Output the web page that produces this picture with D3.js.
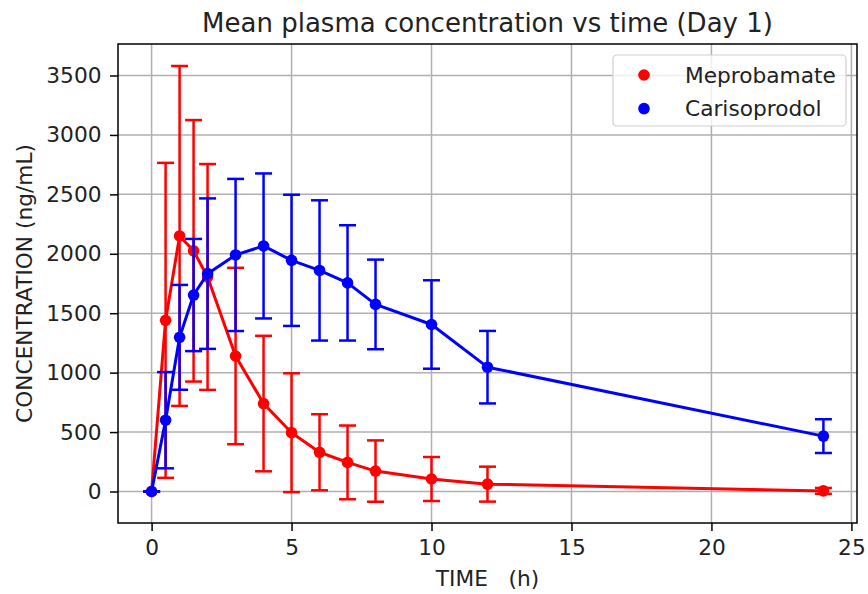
<!DOCTYPE html>
<html>
<head>
<meta charset="utf-8">
<script src="https://cdn.jsdelivr.net/npm/d3@7"></script>
<style>
  body { margin: 0; background: #fff; }
  svg { font-family: "DejaVu Sans", sans-serif; }
</style>
</head>
<body>
<svg id="chart"></svg>
<script>
// time points (h)
const times = [0, 0.5, 1, 1.5, 2, 3, 4, 5, 6, 7, 8, 10, 12, 24];

// Meprobamate mean and SD (ng/mL)
const mepMean = [0, 1440, 2150, 2025, 1805, 1140, 740, 495, 330, 245, 172, 105, 62, 5];
const mepSd = [0, 1325, 1430, 1100, 950, 742, 570, 500, 320, 310, 258, 185, 147, 25];

// Carisoprodol mean and SD (ng/mL)
const carMean = [0, 600, 1297, 1653, 1833, 1990, 2066, 1945, 1860, 1755, 1574, 1405, 1046, 466];
const carSd = [0, 405, 441, 472, 633, 640, 610, 552, 590, 485, 377, 372, 305, 142];

const xTicks = [0, 5, 10, 15, 20, 25];
const yTicks = [0, 500, 1000, 1500, 2000, 2500, 3000, 3500];

const series = [
  { name: 'Meprobamate', color: '#ff0000', mean: mepMean, sd: mepSd },
  { name: 'Carisoprodol', color: '#0000ff', mean: carMean, sd: carSd }
];

const W = 868, H = 594;
const margin = { top: 44, right: 11, bottom: 71, left: 118 };
const width = W - margin.left - margin.right;
const height = H - margin.top - margin.bottom;
const fs = '21.7px';

const svg = d3.select('#chart').attr('width', W).attr('height', H);

const x = d3.scaleLinear().domain([-1.2, 25.2]).range([0, width]);
const y = d3.scaleLinear().domain([-265, 3765]).range([height, 0]);

const g = svg.append('g').attr('transform', `translate(${margin.left},${margin.top})`);

// grid
g.append('g').selectAll('line').data(xTicks).enter().append('line')
  .attr('x1', d => x(d)).attr('x2', d => x(d)).attr('y1', 0).attr('y2', height)
  .attr('stroke', '#b0b0b0').attr('stroke-width', 1.5);
g.append('g').selectAll('line').data(yTicks).enter().append('line')
  .attr('y1', d => y(d)).attr('y2', d => y(d)).attr('x1', 0).attr('x2', width)
  .attr('stroke', '#b0b0b0').attr('stroke-width', 1.5);

// axes
const xAxis = g.append('g')
  .attr('transform', `translate(0,${height})`)
  .call(d3.axisBottom(x).tickValues(xTicks).tickSize(8).tickPadding(9));
const yAxis = g.append('g')
  .call(d3.axisLeft(y).tickValues(yTicks).tickFormat(d3.format('d')).tickSize(8).tickPadding(8.5));

[xAxis, yAxis].forEach(a => {
  a.selectAll('.domain').remove();
  a.selectAll('.tick line').attr('stroke', '#000').attr('stroke-width', 1.5);
  a.selectAll('.tick text').attr('fill', '#222').style('font-size', fs)
    .style('font-family', '"DejaVu Sans", sans-serif');
});

const line = d3.line().x(d => x(d.t)).y(d => y(d.v));

series.forEach(s => {
  const pts = times.map((t, i) => ({ t: t, v: s.mean[i], e: s.sd[i] }));
  const sg = g.append('g');

  // error bars
  sg.selectAll('.eb').data(pts).enter().append('line')
    .attr('x1', d => x(d.t)).attr('x2', d => x(d.t))
    .attr('y1', d => y(d.v - d.e)).attr('y2', d => y(d.v + d.e))
    .attr('stroke', s.color).attr('stroke-width', 2.5);
  sg.selectAll('.capTop').data(pts).enter().append('line')
    .attr('x1', d => x(d.t) - 8.5).attr('x2', d => x(d.t) + 8.5)
    .attr('y1', d => y(d.v + d.e)).attr('y2', d => y(d.v + d.e))
    .attr('stroke', s.color).attr('stroke-width', 2.5);
  sg.selectAll('.capBot').data(pts).enter().append('line')
    .attr('x1', d => x(d.t) - 8.5).attr('x2', d => x(d.t) + 8.5)
    .attr('y1', d => y(d.v - d.e)).attr('y2', d => y(d.v - d.e))
    .attr('stroke', s.color).attr('stroke-width', 2.5);

  sg.append('path').datum(pts)
    .attr('d', line).attr('fill', 'none')
    .attr('stroke', s.color).attr('stroke-width', 3).attr('stroke-linejoin', 'round');

  sg.selectAll('circle').data(pts).enter().append('circle')
    .attr('cx', d => x(d.t)).attr('cy', d => y(d.v)).attr('r', 5.8)
    .attr('fill', s.color);
});

// frame
g.append('rect').attr('width', width).attr('height', height)
  .attr('fill', 'none').attr('stroke', '#000').attr('stroke-width', 1.5);

// legend
const lg = g.append('g').attr('transform', `translate(${width - 244},11)`);
lg.append('rect').attr('width', 233).attr('height', 71).attr('rx', 4)
  .attr('fill', 'rgba(255,255,255,0.8)').attr('stroke', '#d0d0d0').attr('stroke-width', 1.2);
series.forEach((s, i) => {
  lg.append('circle').attr('cx', 31).attr('cy', 20 + i * 33.6).attr('r', 5.8).attr('fill', s.color);
  lg.append('text').attr('x', 72).attr('y', 20 + i * 33.6).attr('dy', '0.35em')
    .style('font-size', fs).attr('fill', '#222').text(s.name);
});

// title and labels
svg.append('text').attr('x', margin.left + width / 2).attr('y', 31.5)
  .attr('text-anchor', 'middle').style('font-size', '26px').attr('fill', '#222')
  .text('Mean plasma concentration vs time (Day 1)');
svg.append('text').attr('x', margin.left + width / 2).attr('y', 586)
  .attr('text-anchor', 'middle').style('font-size', fs).attr('fill', '#222')
  .attr('xml:space', 'preserve').text('TIME   (h)');
svg.append('text')
  .attr('transform', `translate(32,${margin.top + height / 2}) rotate(-90)`)
  .attr('text-anchor', 'middle').style('font-size', fs).attr('fill', '#222')
  .text('CONCENTRATION (ng/mL)');
</script>
</body>
</html>
